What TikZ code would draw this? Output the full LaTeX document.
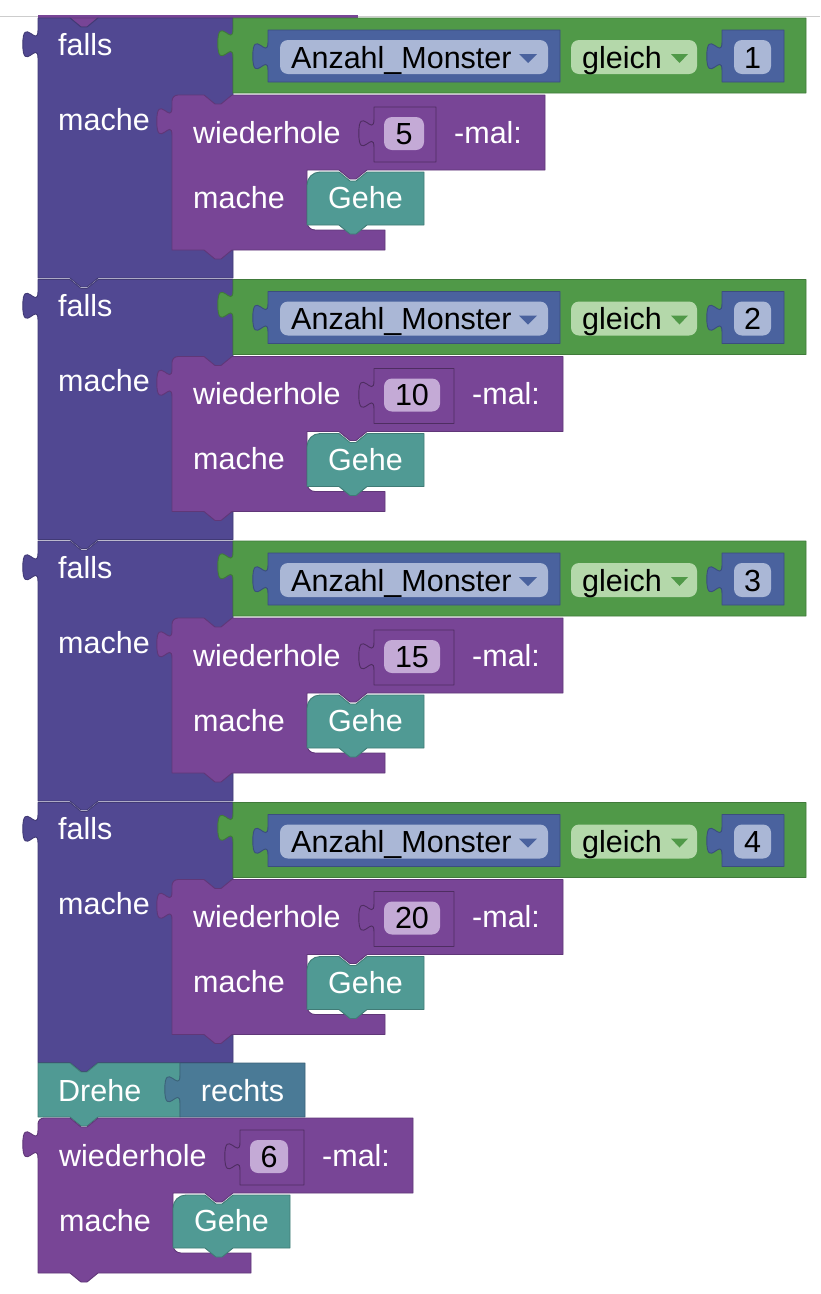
\documentclass[tikz,border=0pt]{standalone}
\usepackage{fontspec}
\setmainfont{Liberation Sans}

\definecolor{ifcol}{RGB}{81,72,146}
\definecolor{repcol}{RGB}{120,69,150}
\definecolor{cmpcol}{RGB}{80,153,72}
\definecolor{varcol}{RGB}{74,98,158}
\definecolor{varpill}{RGB}{170,183,214}
\definecolor{cmppill}{RGB}{180,216,170}
\definecolor{numpill}{RGB}{196,170,214}
\definecolor{movecol}{RGB}{80,154,148}
\definecolor{dircol}{RGB}{74,122,150}
\definecolor{edgegray}{RGB}{205,205,205}

\newcommand\blkfont{\fontsize{30.5}{35}\selectfont}

% path pieces of the block outlines (pixel units, y grows downwards)
\newcommand\notchR{-- ++(11,9) -- ++(6,0) -- ++(11,-9)}
\newcommand\tabL{-- ++(-11,9) -- ++(-6,0) -- ++(-11,-9)}
\newcommand\knobUp{.. controls +(0,-19) and +(0,29.45) .. ++(-15.2,-14.25) .. controls +(0,-29.45) and +(0,19) .. ++(15.2,-14.25)}

\tikzset{
  lbl/.style={text=white, inner sep=0pt, anchor=base west, font=\blkfont},
  val/.style={text=black, inner sep=0pt, anchor=base west, font=\blkfont},
  blk/.style={fill=#1, draw=#1!80!black, line width=0.9pt, line join=round},
  pill/.style={fill=#1, rounded corners=8pt},
}

% repeat block: name, x, y, count, slot width, pill width
\newcommand\repeatblock[6]{%
\begin{scope}[shift={(#2,#3)}]
  \path[blk=repcol] (0,6) .. controls (0,2.7) and (2.7,0) .. (6,0) -- (32,0) \notchR
    -- (311+#5,0) -- (311+#5,75) -- (195,75) \tabL -- (135,75) -- (135,127)
    .. controls (135,131.5) and (138.5,135) .. (143,135) -- (213,135) -- (213,155)
    -- (60,155) \tabL -- (0,155) -- (0,40.5) \knobUp -- cycle;
  \node[lbl] (#1head) at (21,48) {wiederhole};
  \path[blk=repcol, draw=repcol!65!black] (202,12) -- (202+#5,12) -- (202+#5,67)
    -- (202,67) -- (202,52.5) \knobUp -- cycle;
  \path[pill=numpill] (212,22) rectangle (212+#6,55);
  \node[val, anchor=base] (#1count) at (212+#6/2,49) {#4};
  \node[lbl] (#1times) at (220+#5,48) {-mal:};
  \node[lbl] (#1body) at (21,113) {mache};
  \begin{scope}[shift={(135,77)}]
    \path[blk=movecol] (0,53) -- (0,13) .. controls (0,5.8) and (5.8,0) .. (13,0)
      -- (32,0) \notchR -- (117,0) -- (117,53) -- (60,53) \tabL -- cycle;
    \node[lbl, anchor=base] (#1move) at (58.5,36.5) {Gehe};
  \end{scope}
\end{scope}}

% conditional block: name, top, compared value, count, slot width, pill width
\newcommand\condblock[6]{%
\begin{scope}[shift={(0,#2)}]
  \path[blk=ifcol] (38,0) -- (70,0) \notchR -- (233,0) -- (233,260) -- (98,260) \tabL
    -- (38,260) -- (38,40.5) \knobUp -- cycle;
  \node[lbl] (#1falls) at (58,37) {falls};
  \node[lbl] (#1mache) at (58,112) {mache};
  \path[blk=cmpcol] (233,0) -- (806,0) -- (806,75) -- (233,75) -- (233,39.5) \knobUp -- cycle;
  \path[blk=varcol] (268,12) -- (560,12) -- (560,64) -- (268,64) -- (268,52.5) \knobUp -- cycle;
  \path[pill=varpill] (280,22) rectangle (548,56);
  \node[val] (#1var) at (291,50) {Anzahl\_Monster};
  \fill[varcol] (519,36) -- (537,36) -- (528,45) -- cycle;
  \path[pill=cmppill] (571,22) rectangle (697,56);
  \node[val] (#1op) at (582,50) {gleich};
  \fill[cmpcol] (671,36) -- (688,36) -- (679.5,45) -- cycle;
  \path[blk=varcol] (722,12) -- (784,12) -- (784,64) -- (722,64) -- (722,52.5) \knobUp -- cycle;
  \path[pill=varpill] (734,22) rectangle (771,56);
  \node[val, anchor=base] (#1rhs) at (752.5,50) {#3};
  \repeatblock{#1loop}{172}{77}{#4}{#5}{#6}
\end{scope}}

\begin{document}
\begin{tikzpicture}[x=1pt, y=-1pt]
  \useasboundingbox (0,0) rectangle (820,1294);
  \fill[white] (0,0) rectangle (820,1294);

  % edge of the workspace and the foot of the block above
  \draw[edgegray, line width=1pt] (0,16) -- (820,16);
  \fill[repcol] (38,15) rectangle (358,18.5);
  \path[blk=repcol] (70,18) -- (81,27) -- (87,27) -- (98,18) -- cycle;

  \condblock{a}{18}{1}{5}{62}{40}
  \condblock{b}{279.5}{2}{10}{80}{56}
  \condblock{c}{541}{3}{15}{80}{56}
  \condblock{d}{802.5}{4}{20}{80}{56}

  % turn block
  \path[blk=movecol] (38,1063) -- (70,1063) \notchR -- (180,1063) -- (180,1117)
    -- (98,1117) \tabL -- (38,1117) -- cycle;
  \node[lbl] (turn) at (58,1101) {Drehe};
  \path[blk=dircol] (180,1063) -- (305,1063) -- (305,1117) -- (180,1117)
    -- (180,1103.5) \knobUp -- cycle;
  \node[lbl, anchor=base] (dir) at (242.5,1101) {rechts};

  % final loop
  \repeatblock{last}{38}{1118}{6}{64}{38}
\end{tikzpicture}
\end{document}
